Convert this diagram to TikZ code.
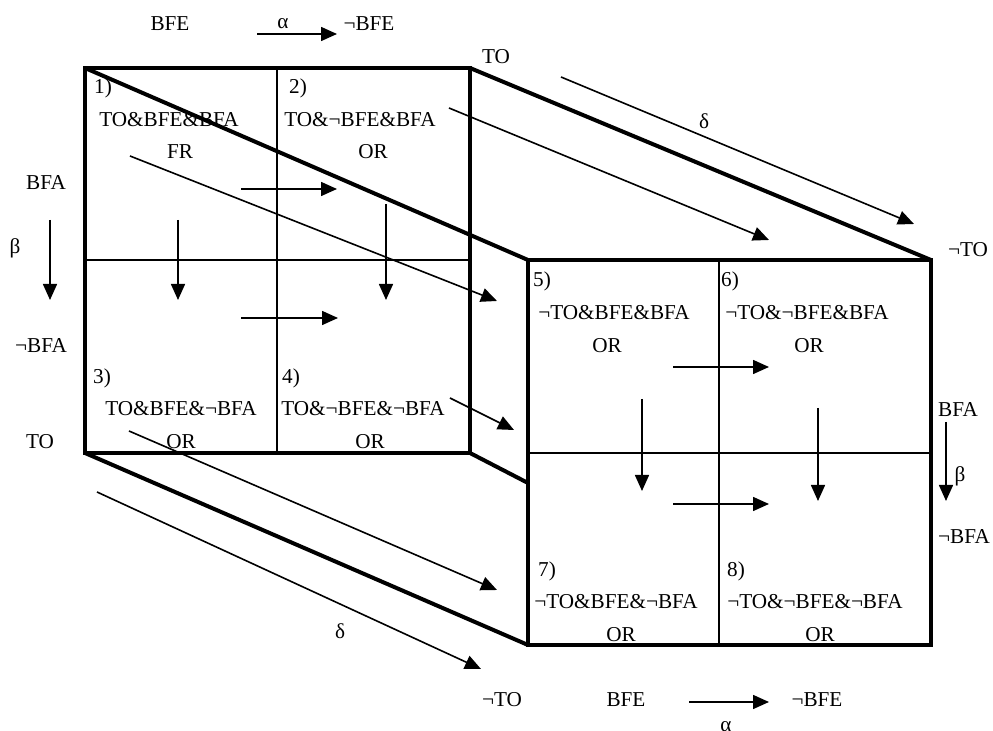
\documentclass[tikz,border=0pt]{standalone}
\usepackage{fontspec}
\setmainfont{Liberation Serif}
\usetikzlibrary{arrows.meta}
\tikzset{
  frame/.style={line width=2pt, line join=miter},
  divider/.style={line width=1pt},
  arrow/.style={-{Triangle[length=8pt, width=7pt]}, line width=0.8pt},
  lbl/.style={font=\fontsize{10.6}{12}\selectfont, inner sep=0pt}
}

\begin{document}
\begin{tikzpicture}[x=0.5pt, y=-0.5pt]
  \useasboundingbox (0,0) rectangle (993,731);

  % Corners of the front block (TO) and the back block (not TO)
  \coordinate (ftl) at (85,68);
  \coordinate (ftr) at (470,68);
  \coordinate (fbl) at (85,453);
  \coordinate (fbr) at (470,453);
  \coordinate (btl) at (528,260);
  \coordinate (btr) at (931,260);
  \coordinate (bbl) at (528,645);
  \coordinate (bbr) at (931,645);

  % Cell dividers
  \draw[divider] (277,68) -- (277,453) (85,260) -- (470,260);
  \draw[divider] (719,260) -- (719,645) (528,453) -- (931,453);

  % Block outlines and depth edges
  \draw[frame] (ftl) rectangle (fbr);
  \draw[frame] (btl) rectangle (bbr);
  \draw[frame] (ftl) -- (btl) (ftr) -- (btr) (fbl) -- (bbl) (fbr) -- (528,483);

  % Axis labels
  \node[lbl] (bfetop) at (170,24) {BFE};
  \node[lbl] (alphatop) at (283,24) {α};
  \node[lbl] (nbfetop) at (369,24) {¬BFE};
  \draw[arrow] (257,34) -- (337,34);
  \node[lbl] (totop) at (496,57) {TO};
  \node[lbl] (deltatop) at (704,121) {δ};
  \node[lbl] (ntotop) at (968,250) {¬TO};
  \draw[arrow] (561,77) -- (914,224);

  \node[lbl] (bfaleft) at (46,183) {BFA};
  \node[lbl] (betaleft) at (15,248) {β};
  \node[lbl] (nbfaleft) at (41,346) {¬BFA};
  \node[lbl] (toleft) at (40,442) {TO};
  \draw[arrow] (50,220) -- (50,300);

  \node[lbl] (bfaright) at (958,410) {BFA};
  \node[lbl] (betaright) at (960,476) {β};
  \node[lbl] (nbfaright) at (964,537) {¬BFA};
  \draw[arrow] (946,422) -- (946,501);

  \node[lbl] (deltabot) at (340,631) {δ};
  \draw[arrow] (97,492) -- (481,669);
  \node[lbl] (ntobot) at (502,700) {¬TO};
  \node[lbl] (bfebot) at (626,700) {BFE};
  \node[lbl] (nbfebot) at (817,700) {¬BFE};
  \node[lbl] (alphabot) at (726,727) {α};
  \draw[arrow] (689,702) -- (769,702);

  % Front block states
  \node[lbl] (n1) at (103,88) {1)};
  \node[lbl] (s1) at (169,120) {TO\&BFE\&BFA};
  \node[lbl] (r1) at (180,152) {FR};
  \node[lbl] (n2) at (298,88) {2)};
  \node[lbl] (s2) at (360,120) {TO\&¬BFE\&BFA};
  \node[lbl] (r2) at (373,152) {OR};
  \node[lbl] (n3) at (102,378) {3)};
  \node[lbl] (s3) at (181,409) {TO\&BFE\&¬BFA};
  \node[lbl] (r3) at (181,442) {OR};
  \node[lbl] (n4) at (291,378) {4)};
  \node[lbl] (s4) at (363,409) {TO\&¬BFE\&¬BFA};
  \node[lbl] (r4) at (370,442) {OR};

  % Back block states
  \node[lbl] (n5) at (542,281) {5)};
  \node[lbl] (s5) at (614,313) {¬TO\&BFE\&BFA};
  \node[lbl] (r5) at (607,346) {OR};
  \node[lbl] (n6) at (730,281) {6)};
  \node[lbl] (s6) at (807,313) {¬TO\&¬BFE\&BFA};
  \node[lbl] (r6) at (809,346) {OR};
  \node[lbl] (n7) at (547,571) {7)};
  \node[lbl] (s7) at (616,602) {¬TO\&BFE\&¬BFA};
  \node[lbl] (r7) at (621,635) {OR};
  \node[lbl] (n8) at (736,571) {8)};
  \node[lbl] (s8) at (815,602) {¬TO\&¬BFE\&¬BFA};
  \node[lbl] (r8) at (820,635) {OR};

  % Transitions inside the front block
  \draw[arrow] (241,189) -- (337,189);
  \draw[arrow] (241,318) -- (338,318);
  \draw[arrow] (178,220) -- (178,300);
  \draw[arrow] (386,204) -- (386,300);

  % Transitions inside the back block
  \draw[arrow] (673,367) -- (769,367);
  \draw[arrow] (673,504) -- (769,504);
  \draw[arrow] (642,399) -- (642,491);
  \draw[arrow] (818,408) -- (818,501);

  % Transitions from front to back
  \draw[arrow] (130,156) -- (497,301);
  \draw[arrow] (449,108) -- (769,240);
  \draw[arrow] (129,431) -- (497,590);
  \draw[arrow] (450,398) -- (514,430);
\end{tikzpicture}
\end{document}
